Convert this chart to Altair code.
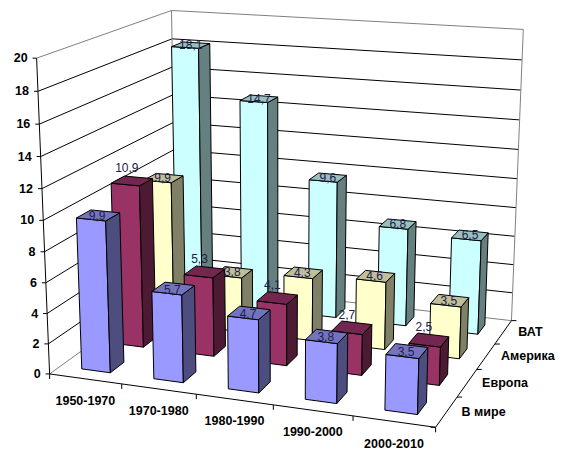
import altair as alt
import numpy as np
import pandas as pd

periods = ["1950-1970", "1970-1980", "1980-1990", "1990-2000", "2000-2010"]
series = ["В мире", "Европа", "Америка", "ВАТ"]
v_world = [9.9, 5.7, 4.7, 3.8, 3.5]
v_europe = [10.9, 5.3, 4.1, 2.7, 2.5]
v_america = [9.9, 3.8, 4.3, 4.6, 3.5]
v_bat = [18.1, 14.7, 9.6, 6.8, 6.5]
z_ticks = list(range(0, 21, 2))

values = [v_world, v_europe, v_america, v_bat]
front = ["#9999FF", "#993366", "#FFFFCC", "#CCFFFF"]
side = ["#4D4D80", "#4D1A33", "#808066", "#668080"]
top = ["#7373BF", "#732650", "#BFBF99", "#99BFBF"]
label_off = [(-1, 1), (-5, -13), (-1, 0), (0, 0)]

# camera calibration: box points (u, v, z) -> page pixels
calib = [((0, 0, 0), (49, 374)), ((1, 0, 0), (436, 427)), ((1, 1, 0), (511, 320)),
         ((0, 0, 1), (36.7, 57)), ((1, 1, 1), (523, 29)),
         ((0, 1, 1), (172, 9)), ((0, 1, .9), (172, 38)), ((0, 1, .6), (172, 123)),
         ((.06, .075, 0), (82, 369)), ((.14, .075, 0), (111, 372)),
         ((.94, .075, 0), (418, 415)), ((.94, .825, 0), (479, 334)), ((.94, .925, 0), (485, 325)),
         ((.06, .825, .905), (172, 47)), ((.14, .825, .905), (199, 52)), ((.14, .925, .905), (210, 43)),
         ((.86, .075, .175), (385, 355)), ((.94, .075, .175), (418, 359))]
A, b = [], []
for (u, v, z), (px, py) in calib:
    A.append([u, v, z, 1, 0, 0, 0, 0, -px * u, -px * v, -px * z]); b.append(px)
    A.append([0, 0, 0, 0, u, v, z, 1, -py * u, -py * v, -py * z]); b.append(py)
m = np.linalg.lstsq(np.array(A, float), np.array(b, float), rcond=None)[0]
P = np.append(m, 1.0).reshape(3, 4)

def proj(u, v, val):
    h = P @ np.array([u, v, val / 20.0, 1.0])
    return float(h[0] / h[2]), float(h[1] / h[2])

lines, polys, rid = [], [], 0
def add_line(pts, color):
    global rid
    rid += 1
    for i, (x, y) in enumerate(pts):
        lines.append(dict(id=rid, ord=i, x=x, y=y, stroke=color))

GRAY, BLACK = "#808080", "#000000"
for t in z_ticks:
    c = GRAY if t in (0, 20) else BLACK
    add_line([proj(0, 0, t), proj(0, 1, t), proj(1, 1, t)], c)
add_line([proj(0, 1, 0), proj(0, 1, 20)], GRAY)
add_line([proj(1, 1, 0), proj(1, 1, 20)], GRAY)
add_line([proj(0, 0, 0), proj(0, 0, 20)], BLACK)
add_line([proj(0, 0, 0), proj(1, 0, 0)], BLACK)
add_line([proj(1, 0, 0), proj(1, 1, 0)], BLACK)
for t in z_ticks:
    x, y = proj(0, 0, t)
    add_line([(x - 4, y), (x, y)], BLACK)
for i in range(6):
    x, y = proj(i / 5, 0, 0)
    add_line([(x, y), (x, y + 5)], BLACK)
for i in range(5):
    x, y = proj(1, i / 4, 0)
    add_line([(x, y), (x + 5 if i else x - 5, y)], BLACK)

def add_poly(pid, pts, fill):
    for i, (x, y) in enumerate(pts + pts[:1]):
        polys.append(dict(id=pid, ord=i, x=x, y=y, fill=fill))

labels = []
pid = 0
for s in range(3, -1, -1):
    for c in range(5):
        val = values[s][c]
        u0, u1 = (c + 0.3) / 5, (c + 0.7) / 5
        v0, v1 = (s + 0.3) / 4, (s + 0.7) / 4
        add_poly(f"{pid:03d}", [proj(u0, v0, 0), proj(u1, v0, 0), proj(u1, v0, val), proj(u0, v0, val)], front[s]); pid += 1
        add_poly(f"{pid:03d}", [proj(u1, v0, 0), proj(u1, v1, 0), proj(u1, v1, val), proj(u1, v0, val)], side[s]); pid += 1
        add_poly(f"{pid:03d}", [proj(u0, v0, val), proj(u1, v0, val), proj(u1, v1, val), proj(u0, v1, val)], top[s]); pid += 1
        tx, ty = proj((u0 + u1) / 2, (v0 + v1) / 2, val)
        labels.append(dict(x=tx + label_off[s][0], y=ty + label_off[s][1], t=f"{val}".replace(".", ",")))

zl = [dict(x=proj(0, 0, t)[0] - 9, y=proj(0, 0, t)[1], t=str(t)) for t in z_ticks]
xl = [dict(x=proj((i + .5) / 5, 0, 0)[0], y=proj((i + .5) / 5, 0, 0)[1] + 22, t=p) for i, p in enumerate(periods)]
sl = [dict(x=proj(1, (i + .5) / 4, 0)[0] + 15, y=proj(1, (i + .5) / 4, 0)[1], t=p) for i, p in enumerate(series)]

sx = alt.Scale(domain=[8, 578], nice=False, zero=False)
sy = alt.Scale(domain=[458, 8], nice=False, zero=False)
X = alt.X("x:Q", scale=sx, axis=None)
Y = alt.Y("y:Q", scale=sy, axis=None)
FONT = "Liberation Sans"

grid = alt.Chart(pd.DataFrame(lines)).mark_line(strokeWidth=1).encode(
    x=X, y=Y, order="ord:Q", detail="id:N", stroke=alt.Stroke("stroke:N", scale=None, legend=None))
bars = alt.Chart(pd.DataFrame(polys)).mark_line(stroke="#000000", strokeWidth=1, strokeJoin="bevel").encode(
    x=X, y=Y, order="ord:Q", detail="id:N", fill=alt.Fill("fill:N", scale=None, legend=None))
vals = alt.Chart(pd.DataFrame(labels)).mark_text(font=FONT, fontSize=12, color="#20204A", baseline="middle").encode(x=X, y=Y, text="t:N")
zt = alt.Chart(pd.DataFrame(zl)).mark_text(font=FONT, fontSize=12.5, fontWeight="bold", color="#000000", align="right", baseline="middle").encode(x=X, y=Y, text="t:N")
xt = alt.Chart(pd.DataFrame(xl)).mark_text(font=FONT, fontSize=12.5, fontWeight="bold", color="#000000", baseline="middle").encode(x=X, y=Y, text="t:N")
st = alt.Chart(pd.DataFrame(sl)).mark_text(font=FONT, fontSize=12.5, fontWeight="bold", color="#000000", align="left", baseline="middle").encode(x=X, y=Y, text="t:N")

chart = alt.layer(grid, bars, vals, zt, xt, st).properties(
    width=570, height=450, padding=0, autosize=alt.AutoSizeParams(type="none"), background="#FFFFFF"
).configure_view(stroke=None)
chart.save("out.html", embed_options={"renderer": "svg", "actions": False})
